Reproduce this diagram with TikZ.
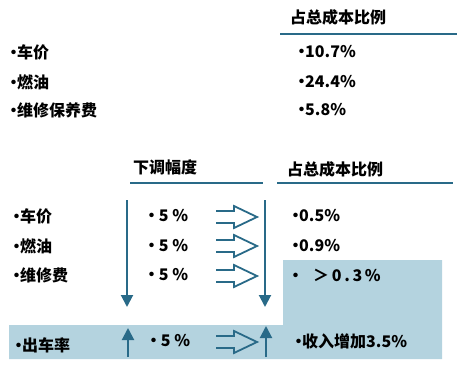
\documentclass[tikz,border=0pt]{standalone}
\usepackage{fontspec}
\setmainfont{Noto Sans CJK SC}
\usetikzlibrary{arrows.meta}
\definecolor{linkblue}{RGB}{41,106,136}
\definecolor{boxblue}{RGB}{180,211,223}
\newcommand\bul{\makebox[7pt]{•}}

\begin{document}
\begin{tikzpicture}[x=1pt,y=-1pt,>={Triangle[width=12pt,length=12pt]},
    txt/.style={anchor=west,inner sep=0pt,font=\fontsize{16}{18}\selectfont\bfseries},
    rule/.style={draw=linkblue,line width=2pt},
    flow/.style={draw=linkblue,line width=2pt,->},
    hollow/.pic={\draw[linkblue,line width=1.8pt,line join=miter]
        (-41,-6) -- (-23,-6) -- (-23,-11) -- (0,0) -- (-23,11) -- (-23,6) -- (-41,6);}]

    \useasboundingbox (0,0) rectangle (461,383);

    % shaded area
    \fill[boxblue] (9,325) -- (283,325) -- (283,260) -- (442,260) -- (442,359) -- (9,359) -- cycle;

    % upper table
    \node[txt] (share1) at (290,17) {占总成本比例};
    \draw[rule] (280,34) -- (457,34);

    \node[txt] (car1) at (10,52) {\bul 车价};
    \node[txt] (fuel1) at (10,82) {\bul 燃油};
    \node[txt] (svc1) at (10,110) {\bul 维修保养费};
    \node[txt] (pcar1) at (298,52) {\bul 10.7\%};
    \node[txt] (pfuel1) at (298,82) {\bul 24.4\%};
    \node[txt] (psvc1) at (298,110) {\bul 5.8\%};

    % lower table
    \node[txt] (cut) at (133,167) {下调幅度};
    \node[txt] (share2) at (287,169) {占总成本比例};
    \draw[rule] (130,183) -- (263,183);
    \draw[rule] (277,183) -- (453,183);

    \node[txt] (car2) at (13,216) {\bul 车价};
    \node[txt] (fuel2) at (13,246) {\bul 燃油};
    \node[txt] (svc2) at (13,275) {\bul 维修费};
    \node[txt] (dcar) at (148,216) {\bul\ 5 \%};
    \node[txt] (dfuel) at (148,246) {\bul\ 5 \%};
    \node[txt] (dsvc) at (148,275) {\bul\ 5 \%};
    \node[txt] (rcar) at (292,216) {\bul 0.5\%};
    \node[txt] (rfuel) at (292,246) {\bul 0.9\%};
    \node[txt] (rsvc) at (292,275) {\bul\hspace{14pt}＞\,0\,.\,3\,\%};

    \node[txt] (trip) at (15,345) {\bul 出车率};
    \node[txt] (dtrip) at (150,341) {\bul\ 5 \%};
    \node[txt] (gain) at (295,341) {\bul 收入增加3.5\%};

    \foreach \y in {217,246,276,342}
        \pic at (257,\y) {hollow};

    \coordinate (lt) at (127,200);
    \coordinate (lb) at (127,307);
    \coordinate (rt) at (265,200);
    \coordinate (rb) at (265,307);
    \coordinate (lu0) at (128,357);
    \coordinate (lu1) at (128,328);
    \coordinate (ru0) at (266,357);
    \coordinate (ru1) at (266,326);
    \draw[flow] (lt) -- (lb);
    \draw[flow] (rt) -- (rb);
    \draw[flow] (lu0) -- (lu1);
    \draw[flow] (ru0) -- (ru1);
\end{tikzpicture}
\end{document}
